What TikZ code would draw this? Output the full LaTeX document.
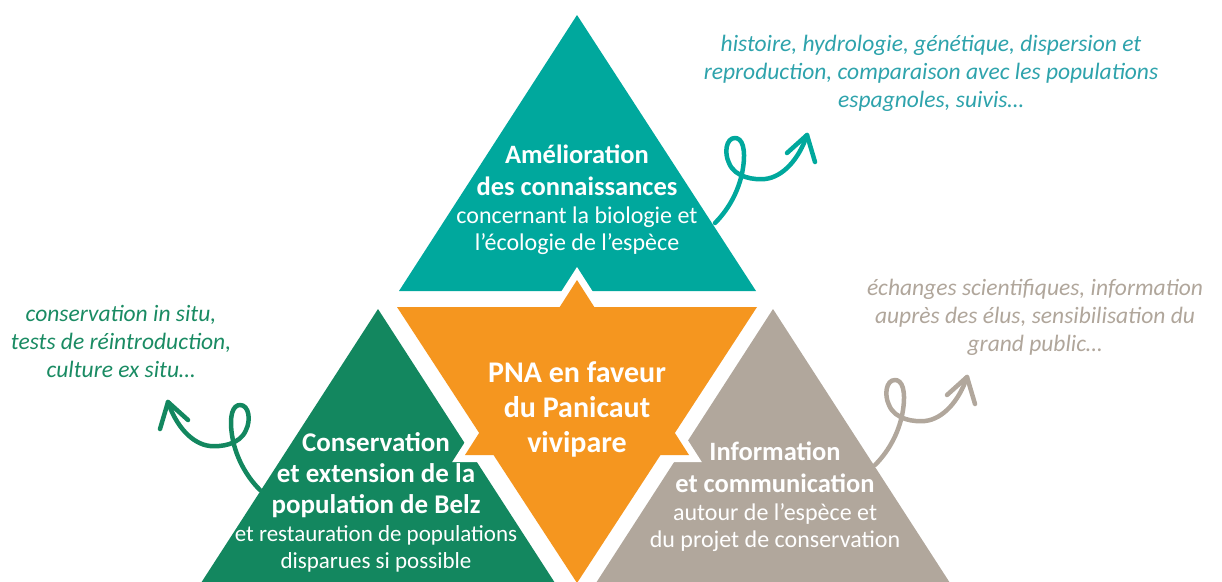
\documentclass[tikz,border=0pt]{standalone}
\usepackage{fontspec}
\setmainfont{Carlito}
\definecolor{pnaTeal}{RGB}{0,168,157}
\definecolor{pnaGreen}{RGB}{19,135,95}
\definecolor{pnaOrange}{RGB}{245,150,31}
\definecolor{pnaGrey}{RGB}{177,167,156}
\definecolor{noteTeal}{RGB}{46,163,172}
\definecolor{noteGreen}{RGB}{26,139,99}
\definecolor{noteGrey}{RGB}{176,166,155}
\tikzset{
  title/.style={font=\bfseries\fontsize{26.5}{32}\selectfont,text=white,align=center,inner sep=0pt,anchor=base},
  body/.style={font=\fontsize{24}{27}\selectfont,text=white,align=center,inner sep=0pt,anchor=base},
  note/.style={font=\itshape\fontsize{23.5}{28}\selectfont,align=center,inner sep=0pt,anchor=base},
  curl/.pic={
    \draw[line width=4.5pt,line cap=round,line join=round]
      (0,0) .. controls (15,-15) and (25,-35) .. (28,-55)
      .. controls (31,-75) and (27,-85) .. (20,-85)
      .. controls (11,-85) and (9,-70) .. (14,-60)
      .. controls (20,-45) and (40,-43) .. (50,-44)
      .. controls (68,-46) and (84,-64) .. (92,-88);
    \draw[line width=4.5pt,line cap=round,line join=round]
      (72,-70) -- (92,-88) -- (100,-61);
  }
}
\begin{document}
\begin{tikzpicture}[x=1pt,y=-1pt]
\useasboundingbox (0,0) rectangle (1222,581);
\clip (0,0) rectangle (1222,581);
% the three outer triangles
\fill[pnaTeal] (577,15) -- (756,291) -- (399,291) -- cycle;
\fill[pnaGreen] (378,309) -- (566,600) -- (190,600) -- cycle;
\fill[pnaGrey] (773,309) -- (961,600) -- (585,600) -- cycle;
% star in the middle, white halo first
\draw[white,line width=14pt,miter limit=4] (397,307) -- (757,307) -- (577,583) -- cycle
  (577,280) -- (689,455) -- (465,455) -- cycle;
\fill[pnaOrange] (397,307) -- (757,307) -- (577,583) -- cycle;
\fill[pnaOrange] (577,280) -- (689,455) -- (465,455) -- cycle;

\node[title] (amelTitle) at (577,195) {Amélioration\\des connaissances};
\node[body] (amelBody) at (577,250) {concernant la biologie et\\l’écologie de l’espèce};
\node[title,font=\bfseries\fontsize{30}{35}\selectfont] (pna) at (577,452) {PNA en faveur\\du Panicaut\\vivipare};
\node[title,font=\bfseries\fontsize{27}{31}\selectfont] (consTitle) at (376,513) {Conservation\\et extension de la\\population de Belz};
\node[body,font=\fontsize{23}{27}\selectfont] (consBody) at (376,568) {et restauration de populations\\disparues si possible};
\node[title] (infoTitle) at (775,492) {Information\\et communication};
\node[body] (infoBody) at (775,547) {autour de l’espèce et\\du projet de conservation};

\node[note,text=noteTeal] (amelNote) at (931,107) {histoire, hydrologie, génétique, dispersion et\\reproduction, comparaison avec les populations\\espagnoles, suivis…};
\node[note,text=noteGreen] (consNote) at (121,377) {conservation in situ,\\tests de réintroduction,\\culture ex situ…};
\node[note,text=noteGrey] (infoNote) at (1035,351) {échanges scientifiques, information\\auprès des élus, sensibilisation du\\grand public…};

\coordinate (amelStart) at (715,223);
\coordinate (consStart) at (260,490);
\coordinate (infoStart) at (875,465);
\pic[color=pnaTeal] at (amelStart) {curl};
\pic[color=pnaGreen,xscale=-1] at (consStart) {curl};
\pic[color=pnaGrey] at (infoStart) {curl};
\end{tikzpicture}
\end{document}
